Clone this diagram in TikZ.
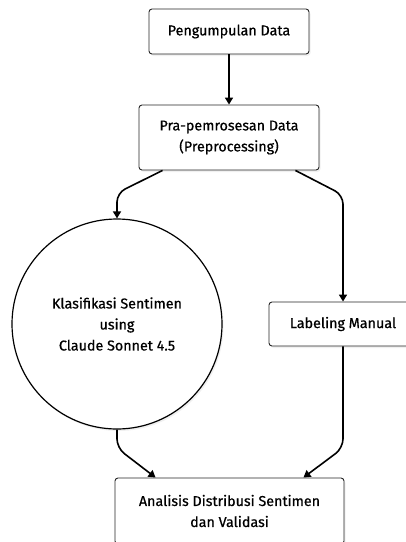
\documentclass[tikz,border=0pt]{standalone}
\usepackage{fontspec}
\setmainfont[FakeBold=0.6]{Fira Sans}
\usetikzlibrary{arrows.meta,shadows}
\begin{document}
\begin{tikzpicture}[x=1pt,y=-1pt,
  lbl/.style={align=center, inner sep=0pt, font=\fontsize{14.3}{21}\selectfont, text=black},
  box/.style={lbl, draw=black!85, line width=0.9pt, rounded corners=3pt, fill=white,
    drop shadow={opacity=0.12, shadow xshift=1.5pt, shadow yshift=-2pt}},
  circ/.style={lbl, draw=black, line width=1.2pt, circle, fill=white,
    drop shadow={opacity=0.12, shadow xshift=1.5pt, shadow yshift=-2pt}},
  conn/.style={line width=1.6pt, rounded corners=9pt, -{Triangle[length=7pt,width=8pt]}}]
\useasboundingbox (0,0) rectangle (406,542);
\clip (0,0) rectangle (406,542);
\node[box, minimum width=160pt, minimum height=45pt] (n1) at (229,31.5) {Pengumpulan Data};
\node[box, minimum width=180pt, minimum height=65pt] (n2) at (229,137.5) {Pra-pemrosesan Data\\(Preprocessing)};
\node[circ, minimum size=210pt] (n3) at (117,324) {Klasifikasi Sentimen\\using\\Claude Sonnet 4.5};
\node[box, minimum width=148pt, minimum height=44pt] (n4) at (343,324) {Labeling Manual};
\node[box, minimum width=229pt, minimum height=66pt] (n5) at (229.5,511) {Analisis Distribusi Sentimen\\dan Validasi};
\coordinate (b1) at (117,193);
\coordinate (b2) at (343,195);
\coordinate (b3) at (117,448);
\coordinate (b4) at (343,448);
\draw[conn] (n1.south) -- (n2.north);
\draw[conn] ([xshift=24pt]n2.south west) -- (b1) -- (n3.north);
\draw[conn] ([xshift=-24pt]n2.south east) -- (b2) -- (n4.north);
\draw[conn] (n3.south) -- (b3) -- ([xshift=41pt]n5.north west);
\draw[conn] (n4.south) -- (b4) -- ([xshift=-41pt]n5.north east);
\end{tikzpicture}
\end{document}
